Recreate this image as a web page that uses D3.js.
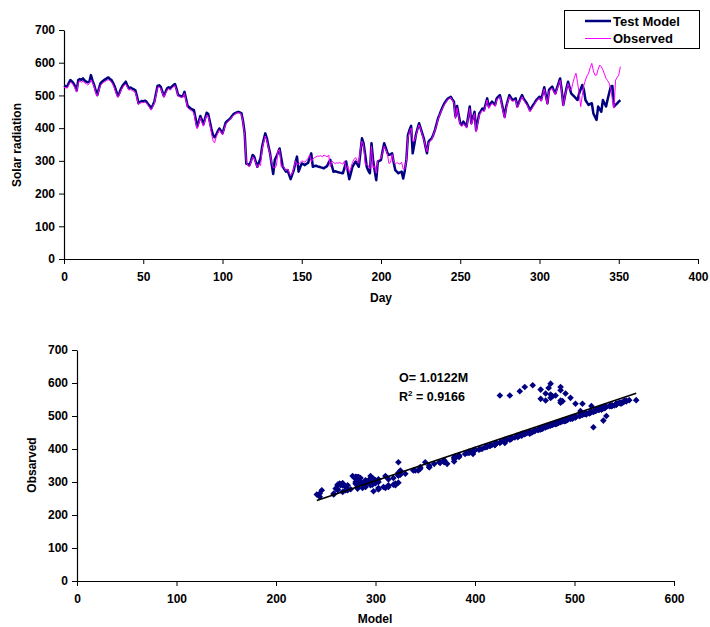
<!DOCTYPE html>
<html>
<head>
<meta charset="utf-8">
<script src="https://cdn.jsdelivr.net/npm/d3@7"></script>
<style>
  html, body { margin: 0; padding: 0; background: #fff; }
  svg text { font-family: Arial, "Liberation Sans", sans-serif; font-weight: bold; fill: #000; }
</style>
</head>
<body>
<svg id="chart" width="710" height="627"></svg>
<script>
// ---------- DATA ----------
const seriesNames = ["Test Model", "Observed"];
const yTicks = [0, 100, 200, 300, 400, 500, 600, 700];
const dayTicks = [0, 50, 100, 150, 200, 250, 300, 350, 400];
const modelTicks = [0, 100, 200, 300, 400, 500, 600];
const fitSlope = 1.0122;
const fitLabel = "O= 1.0122M";
const r2Value = "0.9166";

// Test Model, day 0 .. 351
const testModel = [
  530,528,527,538,547,543,537,528,515,547,
  550,548,552,546,542,540,542,562,545,532,
  515,501,520,537,542,546,549,552,555,550,
  547,538,527,512,498,508,521,530,536,542,
  530,521,524,521,519,516,498,476,480,483,
  481,484,481,474,468,460,470,481,505,529,
  531,527,512,498,510,521,525,521,527,531,
  535,520,501,499,497,498,511,490,468,464,
  460,457,455,430,404,420,437,425,412,430,
  447,443,420,398,379,372,380,390,399,392,
  384,400,417,422,426,430,437,443,446,448,
  450,448,445,420,384,292,290,287,300,318,
  313,297,282,295,308,343,365,384,369,345,
  323,290,260,303,313,325,338,310,282,275,
  267,272,258,244,258,272,295,313,267,280,
  292,290,287,291,294,310,323,282,284,285,
  283,282,280,279,277,281,284,295,303,285,
  267,268,267,265,264,263,262,280,298,270,
  244,262,282,290,298,290,282,325,369,354,
  320,282,270,262,354,303,270,241,298,300,
  303,330,354,340,325,318,320,323,295,272,
  267,262,265,267,246,270,303,379,395,407,
  323,350,379,398,415,400,384,369,345,323,
  359,364,369,380,394,412,430,442,455,466,
  476,483,490,493,496,488,481,435,468,440,
  415,410,420,412,405,436,466,415,432,450,
  394,420,445,452,460,455,473,491,466,474,
  481,476,471,491,496,501,481,458,435,466,
  484,501,493,486,488,491,466,478,491,501,
  490,483,476,466,455,463,471,478,486,491,
  496,486,505,525,500,476,517,522,527,516,
  506,522,537,552,517,471,497,522,542,524,
  506,501,496,491,486,506,519,532,517,486,
  478,471,474,476,445,435,425,466,458,450,
  486,476,466,488,508,527,529,466,471,476,
  481,486
];

// Observed, day 0 .. 351
const observed = [
  525,524,522,532,540,538,531,522,510,538,
  545,540,544,538,536,532,536,548,540,528,
  508,498,515,530,536,540,542,546,548,545,
  540,532,520,505,494,503,516,524,532,534,
  526,516,519,515,512,510,492,472,477,478,
  478,480,477,470,463,455,466,476,500,524,
  526,522,508,494,506,516,520,516,522,526,
  530,516,498,496,494,494,506,484,462,458,
  455,450,446,418,398,412,432,418,406,425,
  440,436,412,385,362,355,372,385,395,388,
  380,396,412,418,422,428,434,440,444,446,
  447,446,442,415,378,298,285,282,296,312,
  308,292,280,290,285,335,358,376,362,340,
  320,295,280,278,285,330,335,282,285,278,
  270,275,265,255,262,278,300,290,290,295,
  300,298,296,302,308,318,298,305,310,312,
  315,314,316,312,318,315,312,318,282,300,
  295,292,294,293,295,292,290,300,272,285,
  265,278,295,305,310,300,292,335,360,350,
  290,290,285,275,345,278,285,262,300,305,
  308,325,345,335,322,292,295,320,298,290,
  295,292,290,296,275,275,300,370,390,400,
  360,360,375,395,410,398,380,365,345,328,
  355,360,366,378,392,408,426,440,452,462,
  472,480,487,490,494,486,476,428,462,435,
  410,405,414,408,400,430,460,410,428,445,
  388,414,440,448,455,450,468,486,460,470,
  476,472,466,486,492,496,476,452,430,460,
  480,496,488,482,484,486,462,474,486,496,
  486,478,472,462,450,458,466,474,482,488,
  492,482,500,520,496,472,512,518,522,512,
  502,518,532,546,512,468,494,518,536,520,
  515,537,555,568,540,506,466,500,530,547,
  560,568,585,598,575,562,562,580,593,588,
  578,565,552,545,537,520,486,461,547,555,
  562,588
];

// ---------- CHART ----------
const svg = d3.select("#chart");
const navy = "#000080", magenta = "#FF00FF";

function styleAxis(g) {
  g.selectAll("path.domain").attr("stroke", "#000").attr("stroke-width", 1.2);
  g.selectAll(".tick line").attr("stroke", "#000").attr("stroke-width", 1);
  g.selectAll(".tick text").attr("font-size", 12).attr("font-family", "Arial, 'Liberation Sans', sans-serif").attr("font-weight", "bold").attr("fill", "#000");
}

// ===== Top: time series =====
const x1 = d3.scaleLinear().domain([0, 400]).range([64, 698]);
const y1 = d3.scaleLinear().domain([0, 700]).range([259, 30]);

svg.append("g").attr("transform", `translate(0,${y1(0)})`)
  .call(d3.axisBottom(x1).tickValues(dayTicks).tickSize(5).tickPadding(8).tickSizeOuter(0))
  .call(styleAxis);
svg.append("g").attr("transform", `translate(${x1(0)},0)`)
  .call(d3.axisLeft(y1).tickValues(yTicks).tickSize(5).tickPadding(4).tickSizeOuter(0))
  .call(styleAxis);

const days = testModel.map((_, i) => i);
const line1 = d3.line().x((d, i) => x1(days[i])).y(d => y1(d));

svg.append("path").datum(testModel).attr("d", line1)
  .attr("fill", "none").attr("stroke", navy).attr("stroke-width", 2.5).attr("stroke-linejoin", "round");
svg.append("path").datum(observed).attr("d", line1)
  .attr("fill", "none").attr("stroke", magenta).attr("stroke-width", 1).attr("stroke-linejoin", "round");

svg.append("text").attr("x", 381).attr("y", 302).attr("text-anchor", "middle").attr("font-size", 12).text("Day");
svg.append("text").attr("transform", "translate(21,145) rotate(-90)").attr("text-anchor", "middle").attr("font-size", 12).text("Solar radiation");

// legend
const leg = svg.append("g");
leg.append("rect").attr("x", 564.5).attr("y", 10.5).attr("width", 135).attr("height", 38)
  .attr("fill", "#fff").attr("stroke", "#000").attr("stroke-width", 1);
const legColors = [navy, magenta], legWidths = [2.5, 1];
seriesNames.forEach((n, i) => {
  const yy = 21 + i * 17.5;
  leg.append("line").attr("x1", 585).attr("x2", 611).attr("y1", yy).attr("y2", yy)
    .attr("stroke", legColors[i]).attr("stroke-width", legWidths[i]);
  leg.append("text").attr("x", 613).attr("y", yy + 4.5).attr("font-size", 13).text(n);
});

// ===== Bottom: scatter =====
const x2 = d3.scaleLinear().domain([0, 600]).range([77, 674]);
const y2 = d3.scaleLinear().domain([0, 700]).range([581, 350]);

svg.append("g").attr("transform", `translate(0,${y2(0)})`)
  .call(d3.axisBottom(x2).tickValues(modelTicks).tickSize(5).tickPadding(8).tickSizeOuter(0))
  .call(styleAxis);
svg.append("g").attr("transform", `translate(${x2(0)},0)`)
  .call(d3.axisLeft(y2).tickValues(yTicks).tickSize(5).tickPadding(4).tickSizeOuter(0))
  .call(styleAxis);

const pts = testModel.map((m, i) => ({ m, o: observed[i] }));
svg.append("g").selectAll("path").data(pts).join("path")
  .attr("transform", d => `translate(${x2(d.m)},${y2(d.o)})`)
  .attr("d", "M0,-3.3L3.3,0L0,3.3L-3.3,0Z")
  .attr("fill", navy);

const mExt = d3.extent(testModel);
svg.append("line")
  .attr("x1", x2(mExt[0])).attr("y1", y2(fitSlope * mExt[0]))
  .attr("x2", x2(mExt[1])).attr("y2", y2(fitSlope * mExt[1]))
  .attr("stroke", "#000").attr("stroke-width", 1.6);

svg.append("text").attr("x", 399).attr("y", 382).attr("font-size", 12.5).text(fitLabel);
const r2 = svg.append("text").attr("x", 399).attr("y", 401).attr("font-size", 12.5);
r2.append("tspan").text("R");
r2.append("tspan").attr("font-size", 8).attr("dy", -5).text("2");
r2.append("tspan").attr("dy", 5).text(" = " + r2Value);

svg.append("text").attr("x", 375).attr("y", 623).attr("text-anchor", "middle").attr("font-size", 12).text("Model");
svg.append("text").attr("transform", "translate(36,465) rotate(-90)").attr("text-anchor", "middle").attr("font-size", 12).text("Obsarved");
</script>
</body>
</html>
